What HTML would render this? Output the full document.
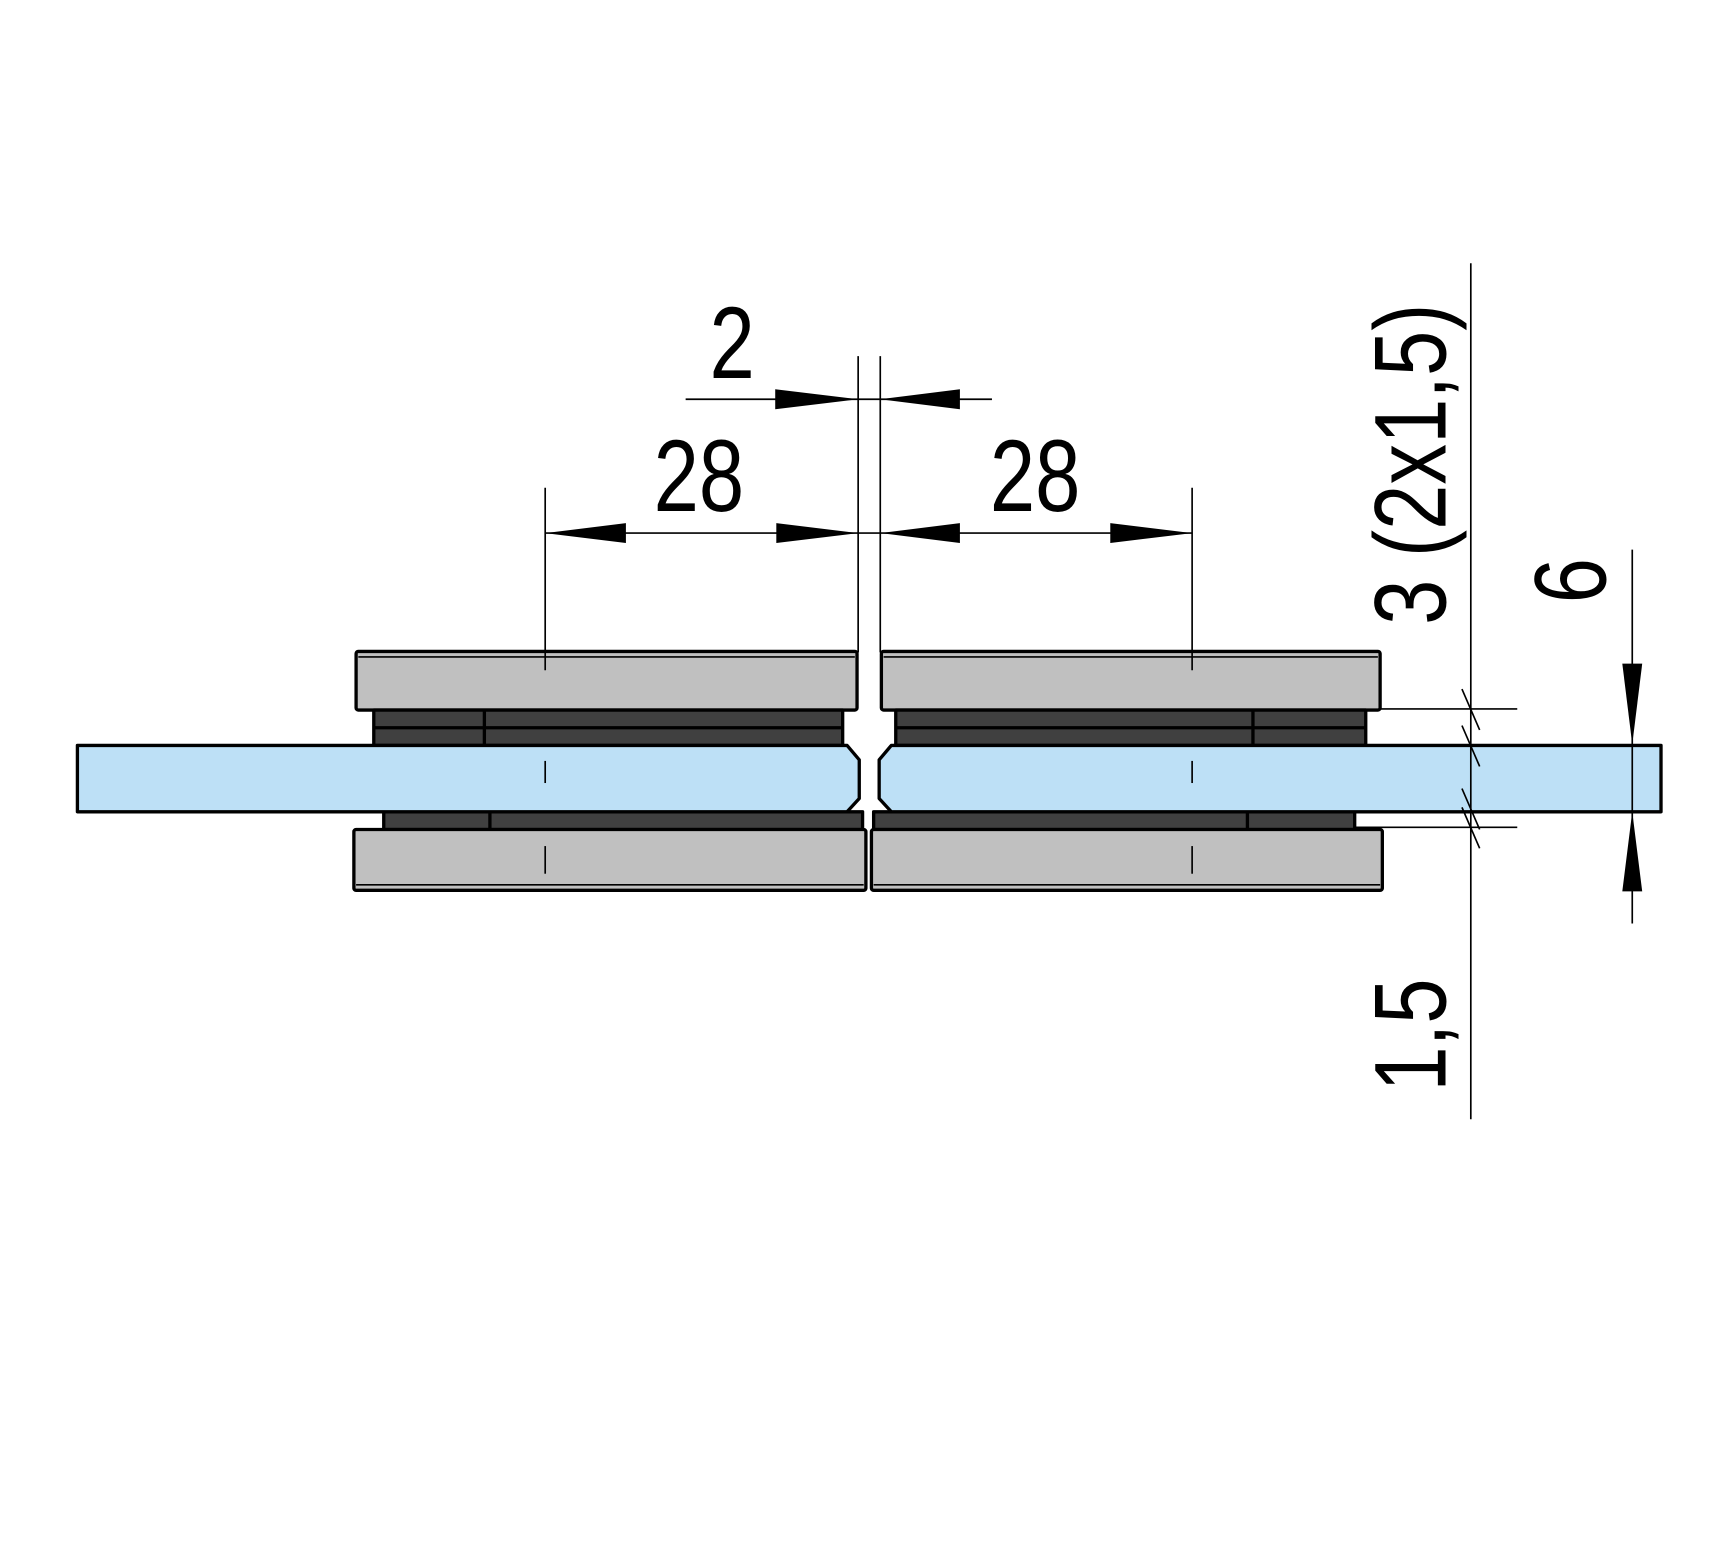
<!DOCTYPE html>
<html><head><style>html,body{margin:0;padding:0;background:#fff;}svg{display:block}</style></head>
<body>
<svg width="1734" height="1555" viewBox="0 0 1568 1406" preserveAspectRatio="none" xmlns="http://www.w3.org/2000/svg" font-family="Liberation Sans, Arial, sans-serif">
<g stroke="#000" stroke-width="3" stroke-linejoin="round">
<rect x="322" y="589" width="453" height="53" rx="2" fill="#c0c0c0"/>
<line x1="324" y1="594" x2="773" y2="594" stroke-width="1.5"/>
<rect x="797" y="589" width="451" height="53" rx="2" fill="#c0c0c0"/>
<line x1="799" y1="594" x2="1246" y2="594" stroke-width="1.5"/>
<rect x="338" y="642" width="424" height="32" fill="#404040"/>
<line x1="338" y1="658" x2="762" y2="658"/>
<line x1="438" y1="642" x2="438" y2="674"/>
<rect x="810" y="642" width="425" height="32" fill="#404040"/>
<line x1="810" y1="658" x2="1235" y2="658"/>
<line x1="1133" y1="642" x2="1133" y2="674"/>
<rect x="347" y="734" width="433" height="16" fill="#404040"/>
<line x1="443" y1="734" x2="443" y2="750"/>
<rect x="790" y="734" width="435" height="16" fill="#404040"/>
<line x1="1128" y1="734" x2="1128" y2="750"/>
<rect x="320" y="750" width="463" height="55" rx="2" fill="#c0c0c0"/>
<line x1="322" y1="800" x2="781" y2="800" stroke-width="1.5"/>
<rect x="788" y="750" width="462" height="55" rx="2" fill="#c0c0c0"/>
<line x1="790" y1="800" x2="1248" y2="800" stroke-width="1.5"/>
<polygon points="70,674 766,674 777,687 777,722 766,734 70,734" fill="#bde0f6"/>
<polygon points="806,674 1502,674 1502,734 806,734 795,722 795,687" fill="#bde0f6"/>
</g>
<g stroke="#000" stroke-width="1.5" fill="none">
<line x1="493" y1="441" x2="493" y2="606"/>
<line x1="493" y1="688" x2="493" y2="708"/>
<line x1="493" y1="765" x2="493" y2="790"/>
<line x1="1078" y1="441" x2="1078" y2="606"/>
<line x1="1078" y1="688" x2="1078" y2="708"/>
<line x1="1078" y1="765" x2="1078" y2="790"/>
<line x1="776" y1="322" x2="776" y2="590"/>
<line x1="796" y1="322" x2="796" y2="590"/>
<line x1="620" y1="361" x2="897" y2="361"/>
<line x1="493" y1="482" x2="1078" y2="482"/>
<line x1="1330" y1="238" x2="1330" y2="1012"/>
<line x1="1248" y1="641" x2="1372" y2="641"/>
<line x1="1225" y1="748" x2="1372" y2="748"/>
<line x1="1476" y1="497" x2="1476" y2="835"/>
<line x1="1322" y1="623" x2="1338" y2="660"/>
<line x1="1322" y1="656" x2="1338" y2="693"/>
<line x1="1322" y1="713" x2="1338" y2="750"/>
<line x1="1322" y1="730" x2="1338" y2="767"/>
</g>
<g fill="#000">
<polygon points="776,361 701,352 701,370"/>
<polygon points="796,361 868,352 868,370"/>
<polygon points="493,482 566,473 566,491"/>
<polygon points="776,482 702,473 702,491"/>
<polygon points="796,482 868,473 868,491"/>
<polygon points="1078,482 1004,473 1004,491"/>
<polygon points="1476,673 1467,600 1485,600"/>
<polygon points="1476,734 1467,806 1485,806"/>
</g>
<g font-size="92" fill="#000">
<text transform="translate(662,342) scale(0.8,1)" text-anchor="middle">2</text>
<text transform="translate(632,462) scale(0.8,1)" text-anchor="middle">28</text>
<text transform="translate(936,462) scale(0.8,1)" text-anchor="middle">28</text>
<text transform="translate(1307,565) rotate(-90) scale(0.8,1)">3 (2x1,5)</text>
<text transform="translate(1452,525) rotate(-90) scale(0.8,1)" text-anchor="middle">6</text>
<text transform="translate(1307,987) rotate(-90) scale(0.8,1)">1,5</text>
</g>
</svg>
</body></html>
